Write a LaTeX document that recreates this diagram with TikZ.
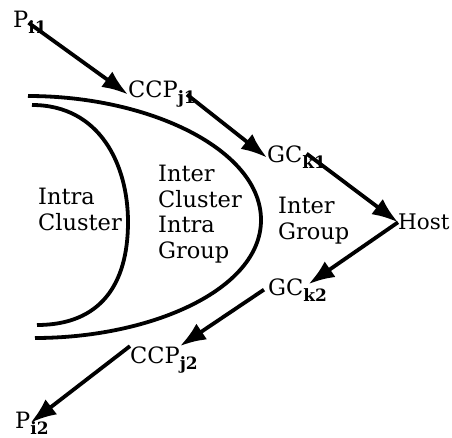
\documentclass[tikz,border=0pt]{standalone}
\usepackage{fontspec}
\setmainfont{DejaVu Serif}
\usetikzlibrary{arrows.meta}

% bold lowered index that does not widen the node
\newcommand{\lowsub}[1]{\rlap{\raisebox{-6pt}{\fontsize{17}{17}\selectfont\bfseries #1}}}

\begin{document}
\begin{tikzpicture}[x=1pt, y=-1pt,
    lbl/.style={anchor=base west, inner sep=0pt, font=\fontsize{22.5}{25.5}\selectfont},
    region/.style={anchor=north west, inner sep=0pt, align=left, font=\fontsize{22.5}{25.5}\selectfont},
    flow/.style={line width=3.8pt, -{Latex[length=26pt,width=19pt]}},
    shell/.style={line width=3.8pt}]
    \useasboundingbox (0,0) rectangle (452,438);

    % --- Zones (nested shells) ---
    \draw[shell] (28,96) .. controls (150,96) and (261,150) .. (261,220)
                         .. controls (261,290) and (150,338) .. (35,338);
    \draw[shell] (32,105) .. controls (100,105) and (128,165) .. (128,222)
                          .. controls (128,285) and (100,325) .. (37,325);

    \node[region] (intra) at (38,188) {Intra\\Cluster};
    \node[region] (interintra) at (158,165) {Inter\\Cluster\\Intra\\Group};
    \node[region] (inter) at (278,197) {Inter\\Group};

    % --- Path labels ---
    \node[lbl] (pi1) at (13,28) {P\lowsub{i1}};
    \node[lbl] (ccpj1) at (128,98) {CCP\lowsub{j1}};
    \node[lbl] (gck1) at (267,163) {GC\lowsub{k1}};
    \node[lbl, font=\fontsize{21.5}{25.5}\selectfont] (host) at (398,230) {Host};
    \node[lbl] (gck2) at (268,295) {GC\lowsub{k2}};
    \node[lbl] (ccpj2) at (130,363) {CCP\lowsub{j2}};
    \node[lbl] (pi2) at (15,428) {P\lowsub{i2}};

    % --- Upward and downward hops ---
    \draw[flow] (pi1.east) -- (ccpj1.west);
    \draw[flow] ([xshift=9pt]ccpj1.east) -- (gck1.west);
    \draw[flow] ([xshift=4pt,yshift=4pt]gck1.east) -- (host.west);
    \draw[flow] (host.west) -- ([xshift=5pt,yshift=-6pt]gck2.north east);
    \draw[flow] ([xshift=-4pt]gck2.west) -- (ccpj2.north east);
    \draw[flow] (ccpj2.north west) -- (pi2.east);
\end{tikzpicture}
\end{document}
